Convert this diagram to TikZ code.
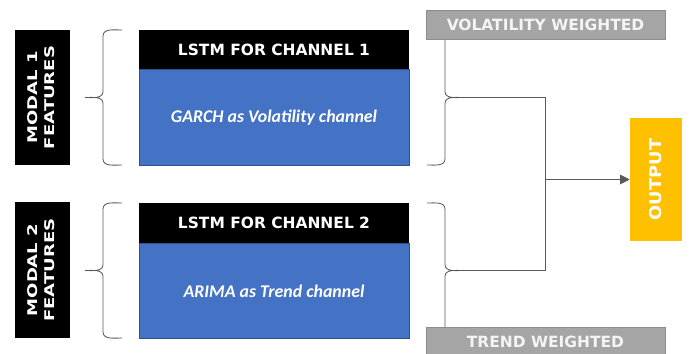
\documentclass[tikz,border=0pt]{standalone}
\usepackage{fontspec}
\setmainfont{Liberation Sans}
\newfontfamily\heavyfont{DejaVu Sans Bold}
\newfontfamily\widefont{DejaVu Sans Bold}
\newfontfamily\calfont{Carlito Bold Italic}
\usetikzlibrary{arrows.meta,calc,positioning}
\definecolor{Night}{HTML}{000000}
\definecolor{Cobalt}{HTML}{4472C4}
\definecolor{CobaltEdge}{HTML}{2F528F}
\definecolor{Ash}{HTML}{A5A5A5}
\definecolor{AshEdge}{HTML}{8C8C8C}
\definecolor{Amber}{HTML}{FFC000}
\definecolor{Slate}{HTML}{595959}
\definecolor{Snow}{HTML}{F4F4F4}
\tikzset{
  modal/.style={
    fill=Night, text=white, rotate=90, align=center, inner sep=0pt,
    minimum width=3.375cm, minimum height=1.375cm,
    font=\widefont\fontsize{9.5}{12}\selectfont
  },
  lstmhead/.style={
    fill=Night, text=white, inner sep=0pt,
    minimum width=6.75cm, minimum height=0.975cm,
    font=\heavyfont\fontsize{11}{13}\selectfont
  },
  lstmbody/.style={
    fill=Cobalt, draw=CobaltEdge, thin, text=white, inner sep=0pt,
    minimum width=6.75cm, minimum height=2.4cm,
    font=\calfont\fontsize{12.7}{15}\selectfont
  },
  weight/.style={
    fill=Ash, draw=AshEdge, thin, text=Snow, inner sep=0pt,
    minimum width=5.975cm, minimum height=0.725cm,
    font=\heavyfont\fontsize{11}{13}\selectfont
  },
  outbox/.style={
    fill=Amber, text=white, rotate=90, inner sep=0pt,
    minimum width=3.075cm, minimum height=1.3cm,
    font=\widefont\fontsize{11.5}{13}\selectfont
  },
  curly/.style={draw=Slate, line width=0.6pt},
  link/.style={draw=Slate, line width=0.6pt},
  outflow/.style={-{Triangle[length=2.4mm,width=2.4mm]}, draw=Slate,
    line width=0.6pt}
}

\begin{document}
\begin{tikzpicture}[x=1cm,y=1cm]
  \useasboundingbox (0,0) rectangle (17.3,8.825);

  % left side: features
  \node[modal] (mod1) at (1.0625,6.3875)
    {\scalebox{1.35}[1]{\begin{tabular}{@{}c@{}}MODAL 1\\FEATURES\end{tabular}}};
  \node[modal,minimum width=3.4cm] (mod2) at (1.0625,2.075)
    {\scalebox{1.35}[1]{\begin{tabular}{@{}c@{}}MODAL 2\\FEATURES\end{tabular}}};

  % the two LSTM blocks
  \node[lstmhead] (hd1) at (6.85,7.5875) {LSTM FOR CHANNEL 1};
  \node[lstmbody,below=0pt of hd1] (bd1) {GARCH as Volatility channel};
  \node[lstmhead,minimum height=1.0cm] (hd2) at (6.85,3.25) {LSTM FOR CHANNEL 2};
  \node[lstmbody,below=0pt of hd2,minimum height=2.375cm] (bd2) {ARIMA as Trend channel};

  % braces
  \draw[curly] (3.05,4.7) to[out=180,in=-90] (2.575,4.85) -- (2.575,6.2375)
    to[out=90,in=0] (2.125,6.3875) to[out=0,in=-90] (2.575,6.5375)
    -- (2.575,7.925) to[out=90,in=180] (3.05,8.075);
  \draw[curly] (3.05,0.375) to[out=180,in=-90] (2.575,0.525) -- (2.575,1.9125)
    to[out=90,in=0] (2.125,2.0625) to[out=0,in=-90] (2.575,2.2125)
    -- (2.575,3.6) to[out=90,in=180] (3.05,3.75);
  \draw[curly] (10.675,8.075) to[out=0,in=90] (11.125,7.925) -- (11.125,6.5375)
    to[out=-90,in=180] (11.575,6.3875) to[out=180,in=90] (11.125,6.2375)
    -- (11.125,4.85) to[out=-90,in=0] (10.675,4.7);
  \draw[curly] (10.675,3.75) to[out=0,in=90] (11.125,3.6) -- (11.125,2.2125)
    to[out=-90,in=180] (11.575,2.0625) to[out=180,in=90] (11.125,1.9125)
    -- (11.125,0.525) to[out=-90,in=0] (10.675,0.375);

  % weights sit over the brace ends
  \node[weight] (volw) at (13.6375,8.2125) {VOLATILITY WEIGHTED};
  \node[weight] (trdw) at (13.6375,0.2875) {TREND WEIGHTED};

  % output (rotated: its north side faces left)
  \node[outbox] (out) at (16.4,4.3375) {\scalebox{1.1}[1]{OUTPUT}};

  \coordinate (vtip) at (11.575,6.3875);
  \coordinate (ttip) at (11.575,2.0625);
  \coordinate (join) at ($(out.north)+(-2.1,0)$);

  \draw[link] (vtip) -| (join);
  \draw[link] (ttip) -| (join);
  \draw[outflow] (join) -- (out.north);
\end{tikzpicture}
\end{document}
